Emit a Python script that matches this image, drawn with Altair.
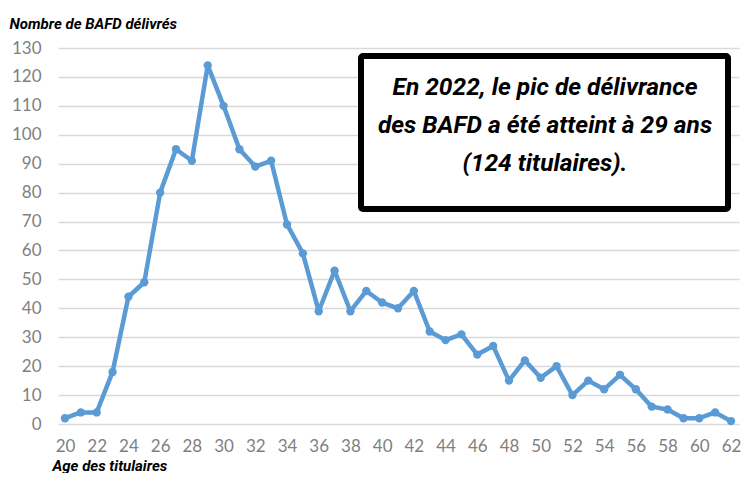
import altair as alt
import pandas as pd

ages = list(range(20, 63))
counts = [2, 4, 4, 18, 44, 49, 80, 95, 91, 124, 110, 95, 89, 91, 69, 59, 39, 53, 39, 46,
          42, 40, 46, 32, 29, 31, 24, 27, 15, 22, 16, 20, 10, 15, 12, 17, 12, 6, 5, 2,
          2, 4, 1]
x_ticks = list(range(20, 63, 2))
y_ticks = list(range(0, 131, 10))
note_lines = ["En 2022, le pic de délivrance", "des BAFD a été atteint à 29 ans", "(124 titulaires)."]
y_title = "Nombre de BAFD délivrés"
x_title = "Age des titulaires"

df = pd.DataFrame({"age": ages, "n": counts})
one = pd.DataFrame({"k": [0]})

BLUE = "#5B9BD5"
LABEL_FONT = "Lato"
TITLE_FONT = "Roboto"

x_enc = alt.X("age:Q",
              scale=alt.Scale(domain=[19.559, 62.5045], nice=False, zero=False),
              axis=alt.Axis(values=x_ticks, grid=False, domain=False, ticks=False,
                            labelPadding=14, labelFontSize=17, labelColor="#7f7f7f",
                            labelFont=LABEL_FONT, title=x_title, titleFont=TITLE_FONT,
                            titleFontSize=15, titleFontStyle="italic", titleFontWeight="bold",
                            titleColor="black", titleAnchor="start", titleAlign="left",
                            titleBaseline="alphabetic", titleX=-6, titleY=46,
                            labelFlush=False, labelOverlap=False))
y_enc = alt.Y("n:Q",
              scale=alt.Scale(domain=[0, 130], nice=False),
              axis=alt.Axis(values=y_ticks, grid=True, gridColor="#d9d9d9", gridWidth=1.6,
                            domain=False, ticks=False, labelPadding=17, labelFontSize=17,
                            labelColor="#7f7f7f", labelFont=LABEL_FONT, title=y_title,
                            labelOverlap=False,
                            titleFont=TITLE_FONT, titleFontSize=15, titleFontStyle="italic",
                            titleFontWeight="bold", titleColor="black", titleAngle=0,
                            titleAlign="left", titleBaseline="alphabetic",
                            titleX=-49, titleY=-20))

base = alt.Chart(df).encode(x=x_enc, y=y_enc)
line = base.mark_line(color=BLUE, strokeWidth=4.5, strokeJoin="round", strokeCap="round")
pts = base.mark_circle(color=BLUE, size=70, opacity=1)

box = alt.Chart(one).mark_rect(fill="white", stroke="black", strokeWidth=6,
                               cornerRadius=2, strokeJoin="round").encode(
    x=alt.value(303), x2=alt.value(670), y=alt.value(8), y2=alt.value(161))

note = alt.Chart(one).mark_text(font=TITLE_FONT, fontSize=24.5, fontStyle="italic",
                                fontWeight="bold", color="black", align="center",
                                baseline="middle", lineHeight=38).encode(
    x=alt.value(487), y=alt.value(40), text=alt.value(note_lines))

chart = alt.layer(line, pts, box, note).properties(
    width=681, height=376,
    autosize=alt.AutoSizeParams(type="none"),
    padding={"left": 50, "top": 40, "right": 2, "bottom": 49},
).configure_view(stroke=None)

chart.save("out.html", embed_options={"renderer": "svg", "actions": False})
